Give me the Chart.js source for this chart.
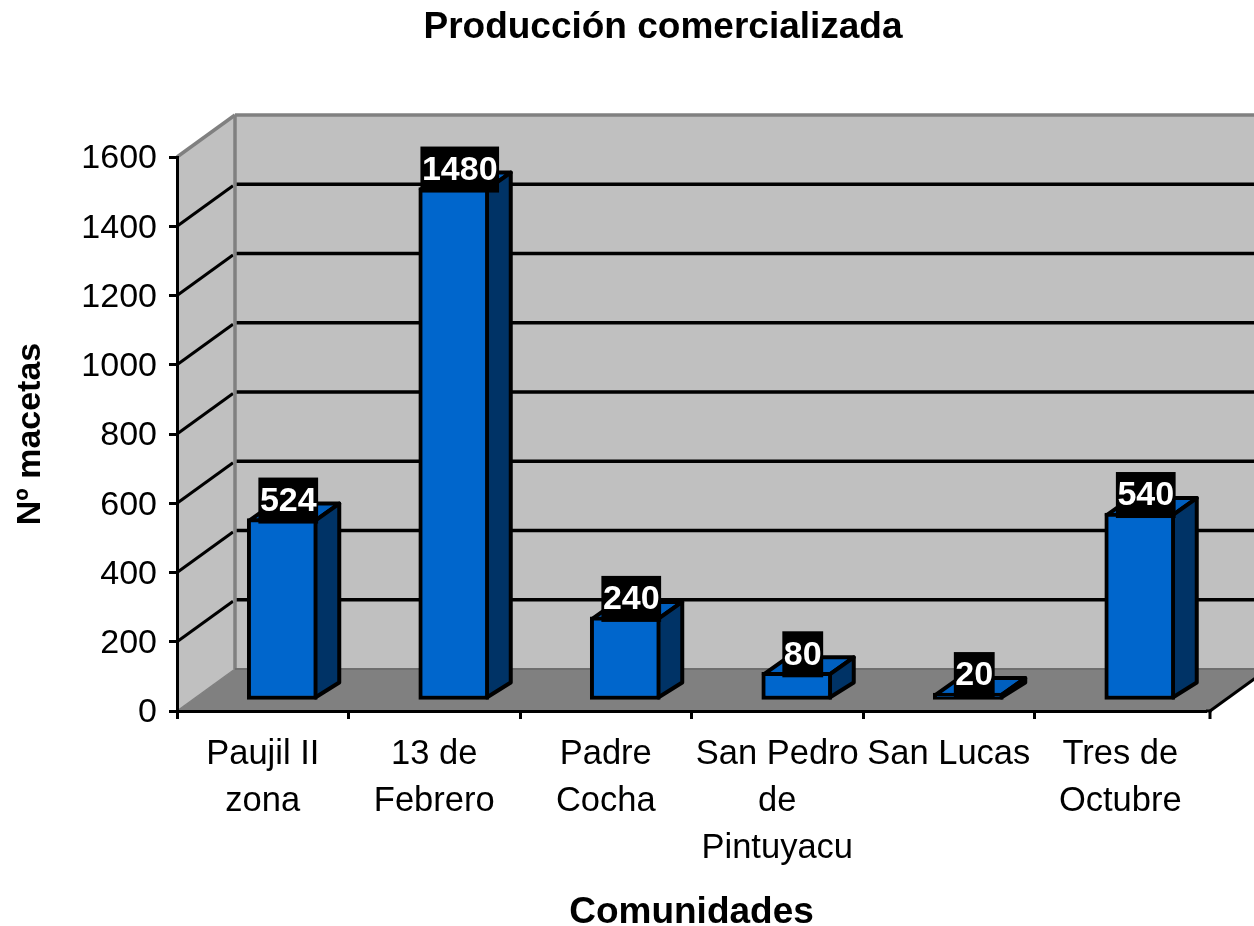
<!DOCTYPE html>
<html><head><meta charset="utf-8">
<style>html,body{margin:0;padding:0;background:#fff}canvas{display:block}</style>
<script src="https://cdn.jsdelivr.net/npm/chart.js@4"></script>
</head><body><canvas id="c" width="1254" height="926"></canvas>
<script>
const categories = [['Paujil II','zona'],['13 de','Febrero'],['Padre','Cocha'],['San Pedro','de','Pintuyacu'],'San Lucas',['Tres de','Octubre']];
const values = [524,1480,240,80,20,540];
const yTicksMax = 1600, yTickStep = 200;
const chartTitle = 'Producción comercializada', xTitle = 'Comunidades', yTitle = 'Nº macetas';
const FONT = '"Liberation Sans", Arial, sans-serif';
const WALL = {dx:58, dy:-42}, BAR = {dx:19.5, dy:-11}, DEPTH = {dx:24, dyTop:-17, dyBase:-15};
const AXIS_EXT = 4;

function poly(ctx, pts, fill, stroke, lw){
  ctx.beginPath(); pts.forEach((p,i)=> i?ctx.lineTo(p[0],p[1]):ctx.moveTo(p[0],p[1])); ctx.closePath();
  if(fill){ctx.fillStyle=fill;ctx.fill();}
  if(stroke){ctx.strokeStyle=stroke;ctx.lineWidth=lw;ctx.lineJoin='round';ctx.stroke();}
}
function line(ctx,a,b,c,w){ctx.beginPath();ctx.moveTo(a[0],a[1]);ctx.lineTo(b[0],b[1]);ctx.strokeStyle=c;ctx.lineWidth=w;ctx.stroke();}

const box3d = {
  id:'box3d',
  afterLayout(chart){ chart.titleBlock.left = 72; chart.titleBlock.right = 1254; },
  beforeDraw(chart){
    const ctx=chart.ctx, a=chart.chartArea, y=chart.scales.y, {dx,dy}=WALL;
    const L=a.left,R=a.right+AXIS_EXT,T=a.top,B=a.bottom;
    ctx.save();
    poly(ctx,[[L+dx,T+dy],[R+dx,T+dy],[R+dx,B+dy],[L+dx,B+dy]],'#c0c0c0');
    poly(ctx,[[L,T],[L+dx,T+dy],[L+dx,B+dy],[L,B]],'#c0c0c0');
    poly(ctx,[[L,B],[L+dx,B+dy],[R+dx,B+dy],[R,B]],'#808080');
    y.ticks.forEach(t=>{
      const py=y.getPixelForValue(t.value);
      if(t.value===0||t.value===yTicksMax) return;
      line(ctx,[L,py],[L+dx-2,py+dy+1.5],'#000',3);
      line(ctx,[L+dx+1,py+dy],[R+dx,py+dy],'#000',3.5);
    });
    line(ctx,[L+dx,T+dy],[R+dx,T+dy],'#808080',3.5);
    line(ctx,[L,T],[L+dx,T+dy],'#808080',3.5);
    line(ctx,[L+dx,T+dy],[L+dx,B+dy],'#808080',3.5);
    line(ctx,[L,B],[L+dx,B+dy],'#808080',1.5);
    line(ctx,[L+dx,B+dy],[R+dx,B+dy],'#6e6e6e',2);
    line(ctx,[R,B],[R+dx,B+dy],'#000',3);
    line(ctx,[a.right,B],[R+1.5,B],'#000',3);
    line(ctx,[R,B],[R,B+8],'#000',3);
    ctx.restore();
  },
  beforeDatasetsDraw(chart){
    const ctx=chart.ctx, {dx,dyTop,dyBase}=DEPTH;
    ctx.save();
    ctx.translate(BAR.dx,BAR.dy);
    chart.getDatasetMeta(0).data.forEach(b=>{
      const l=b.x-b.width/2+2,r=b.x+b.width/2-2,t=b.y+2,base=b.base-2;
      poly(ctx,[[l,t],[l+dx,t+dyTop],[r+dx,t+dyTop],[r,t]],'#005fbf','#000',4);
      poly(ctx,[[r,t],[r+dx,t+dyTop],[r+dx,base+dyBase],[r,base]],'#003366','#000',4);
    });
  },
  afterDatasetsDraw(chart){
    const ctx=chart.ctx;
    ctx.restore();
    ctx.save();
    ctx.font='bold 34px '+FONT;
    ctx.textAlign='center'; ctx.textBaseline='middle';
    chart.getDatasetMeta(0).data.forEach((b,i)=>{
      const s=String(values[i]), w=ctx.measureText(s).width+3;
      const cx=b.x+BAR.dx+6, cy=b.y+BAR.dy-18;
      ctx.fillStyle='#000'; ctx.fillRect(cx-w/2,cy-23,w,46);
      ctx.fillStyle='#fff'; ctx.fillText(s,cx,cy+1);
    });
    ctx.restore();
  }
};

new Chart(document.getElementById('c'),{
  type:'bar',
  data:{labels:categories,datasets:[{data:values,backgroundColor:'#0066cc',borderColor:'#000',borderWidth:4,borderSkipped:false,barThickness:70,clip:false}]},
  plugins:[box3d],
  options:{
    responsive:false,animation:false,
    layout:{autoPadding:false,padding:{left:0,top:0,right:44+AXIS_EXT,bottom:0}},
    plugins:{
      legend:{display:false},tooltip:{enabled:false},
      title:{display:true,text:chartTitle,color:'#000',font:{family:FONT,size:37,weight:'bold',lineHeight:1.2},padding:{top:5.8,bottom:106.8}}
    },
    scales:{
      x:{
        offset:true,
        afterFit:s=>{s.height=215;},
        grid:{drawOnChartArea:false,offset:true,tickLength:8,tickColor:c=>c.type==='scale'?'rgba(0,0,0,0)':'#000',tickWidth:3},
        border:{color:'#000',width:3},
        ticks:{autoSkip:false,maxRotation:0,minRotation:0,padding:12,color:'#000',font:{family:FONT,size:34.5,lineHeight:1.362}},
        title:{display:true,text:xTitle,color:'#000',font:{family:FONT,size:37,weight:'bold',lineHeight:0.69},padding:0}
      },
      y:{
        min:0,max:yTicksMax,
        afterFit:s=>{s.width=177;},
        grid:{drawOnChartArea:false,tickLength:8,tickColor:'#000',tickWidth:3},
        border:{color:'#000',width:3},
        ticks:{stepSize:yTickStep,padding:12,labelOffset:2,color:'#000',font:{family:FONT,size:34},callback:v=>String(v)},
        title:{display:true,text:yTitle,color:'#000',font:{family:FONT,size:34,weight:'bold',lineHeight:1.2},padding:{top:10.5,bottom:0}}
      }
    }
  }
});
</script></body></html>
